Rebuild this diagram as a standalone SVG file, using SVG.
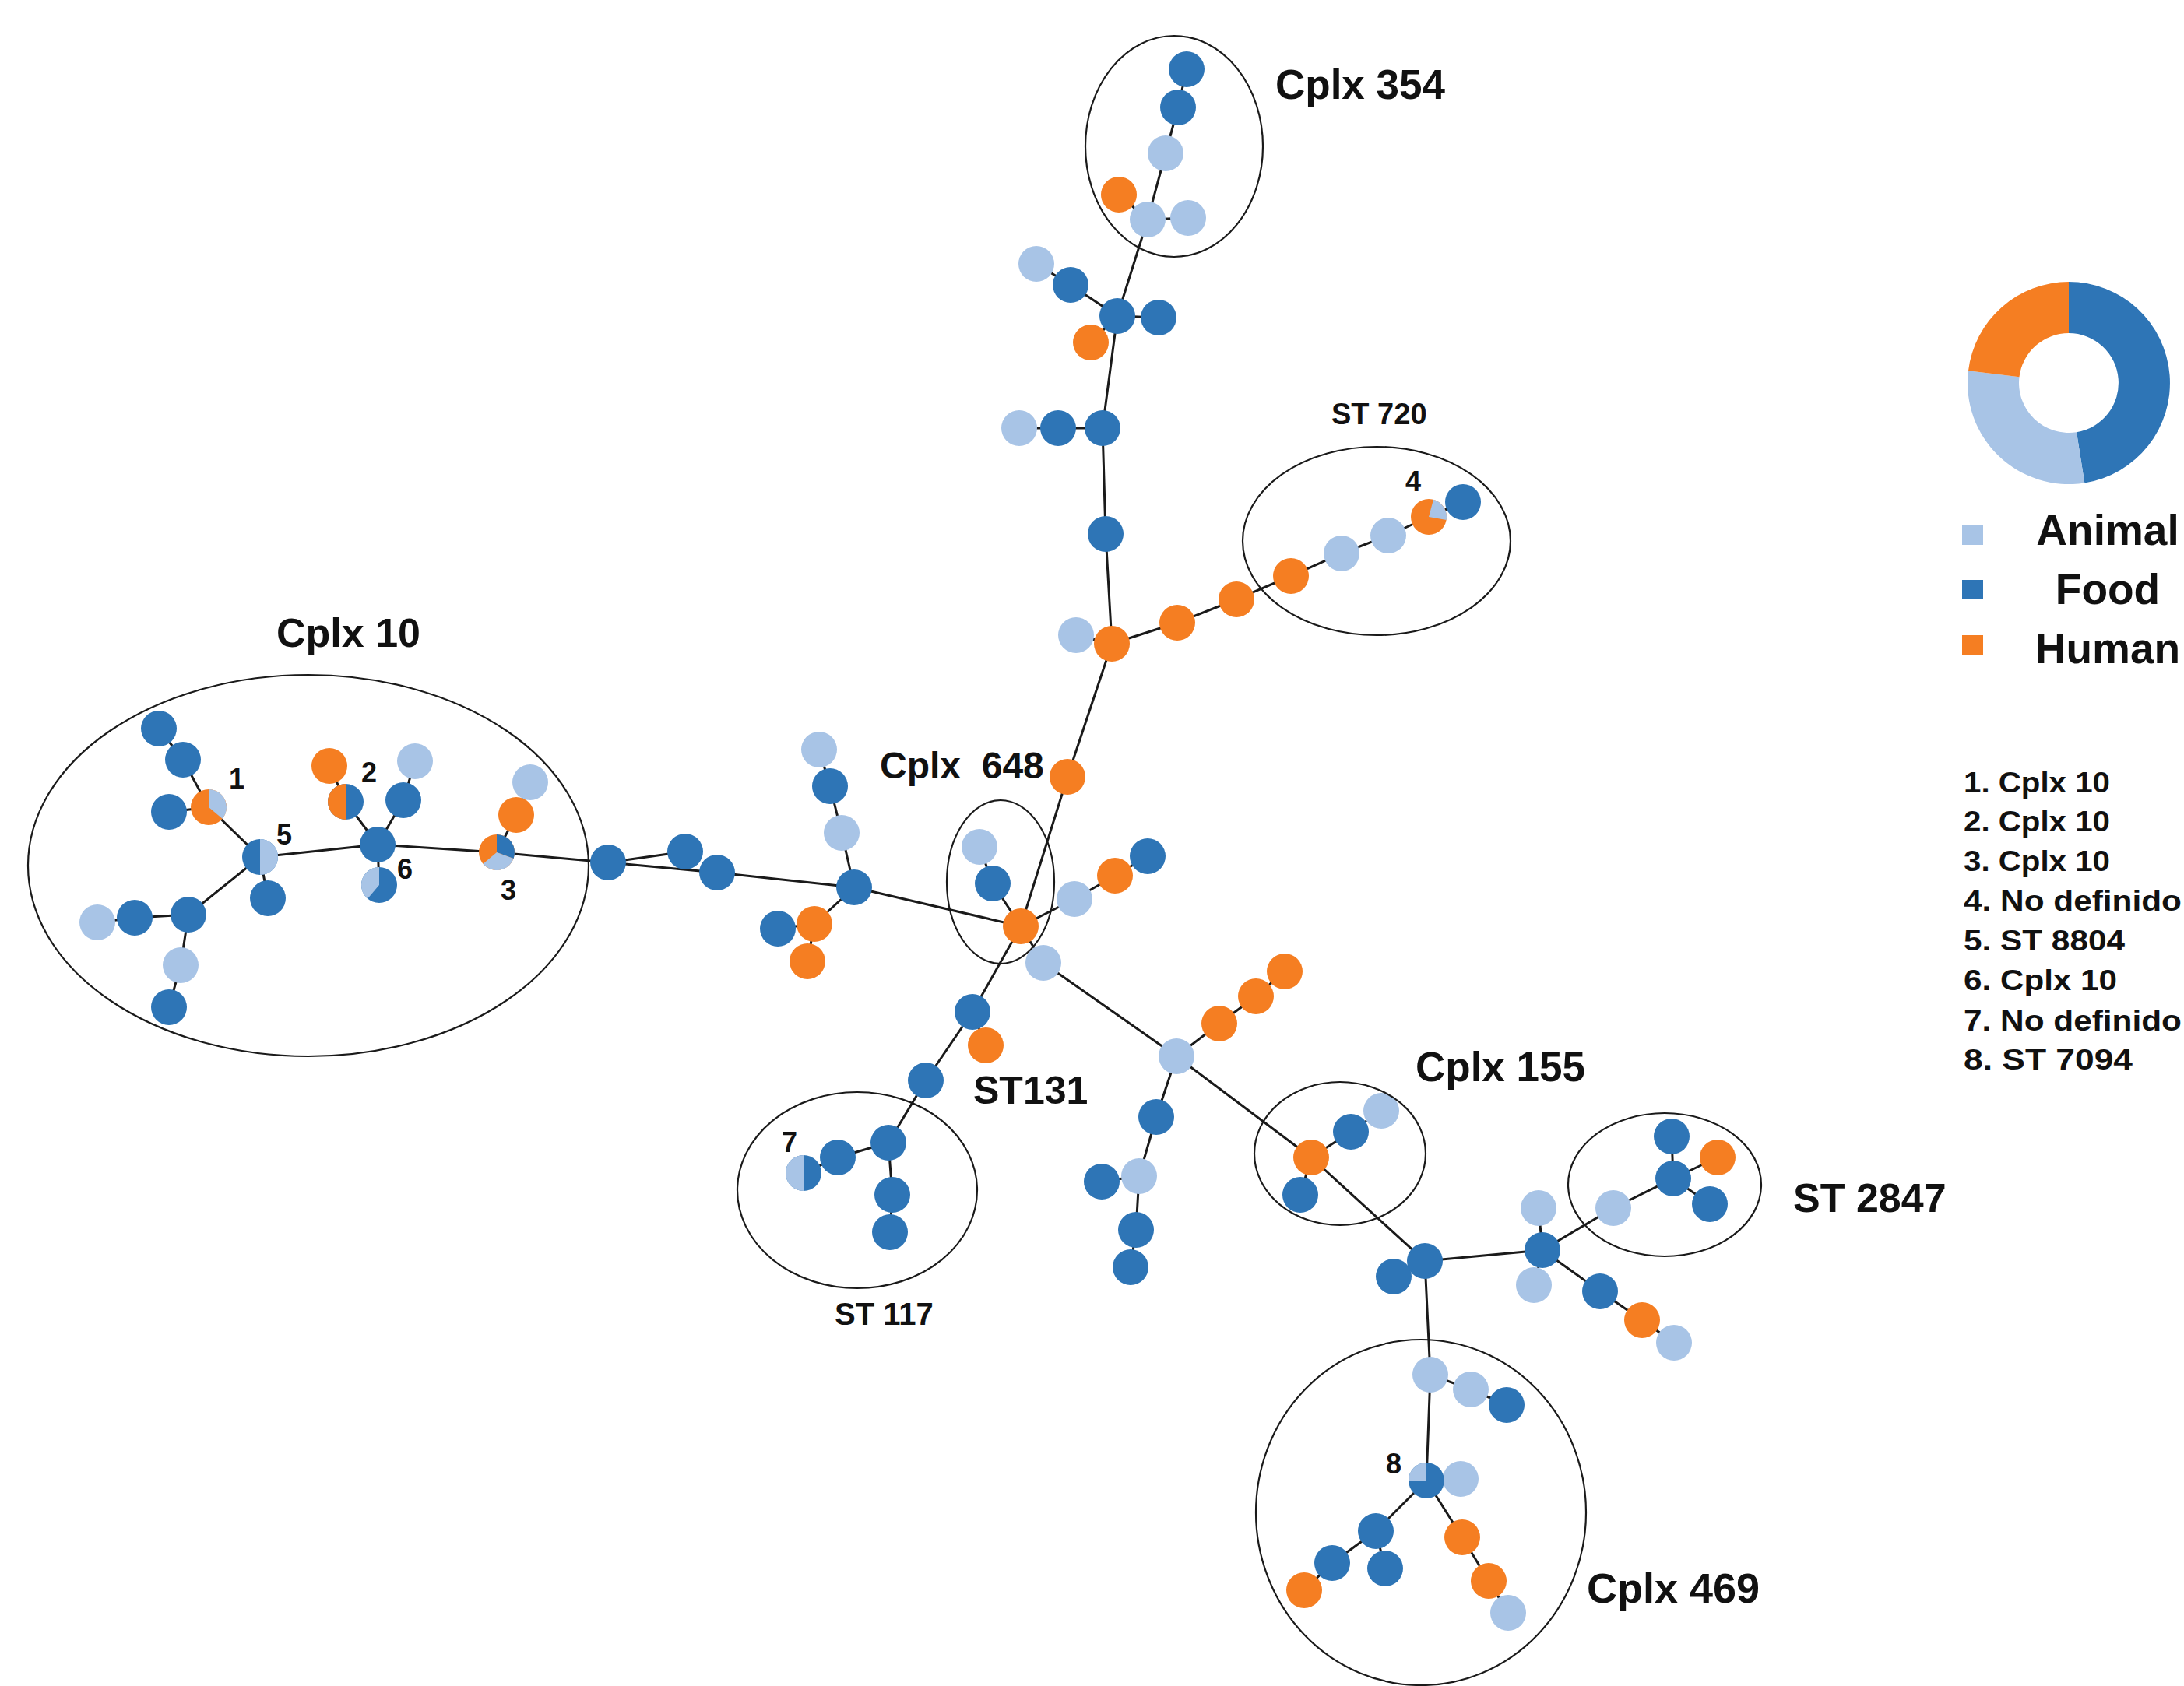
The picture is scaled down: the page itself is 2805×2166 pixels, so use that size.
<svg xmlns="http://www.w3.org/2000/svg" width="2805" height="2166" viewBox="0 0 2805 2166">
<style>
.f{fill:#2E75B6}.a{fill:#A8C4E6}.h{fill:#F57E22}
.e{fill:none;stroke:#1a1a1a;stroke-width:3;stroke-linecap:round;stroke-linejoin:round}
.g{fill:none;stroke:#1a1a1a;stroke-width:2.2}
.t{font-family:"Liberation Sans",Arial,sans-serif;font-weight:bold;fill:#111}
</style>
<rect width="2805" height="2166" fill="#ffffff"/>
<g id="connectors">
<path class="e" d="M204,936 L235,976 L268,1037 L334,1101 M217,1043 L268,1037 M334,1101 L344,1154 M334,1101 L242,1175 L173,1179 L125,1185 M242,1175 L232,1240 L217,1294 M334,1101 L485,1085 L444,1030 L423,984 M485,1085 L518,1028 L533,978 M485,1085 L487,1137 M485,1085 L638,1095 L781,1108 L880,1094 M781,1108 L921,1121 L1097,1140 L1311,1190 M1097,1140 L1081,1070 L1066,1010 L1052,963 M1097,1140 L1046,1187 L999,1193 M1046,1187 L1037,1235 M638,1095 L663,1047 L681,1005"/>
<path class="e" d="M1311,1190 L1275,1135 L1258,1088 M1311,1190 L1380,1155 L1432,1125 L1474,1100 M1311,1190 L1340,1237 L1511,1357 L1684,1487 L1830,1620 M1311,1190 L1249,1300 L1189,1388 L1141,1468 L1076,1487 L1032,1507 M1141,1468 L1146,1535 L1143,1583 M1249,1300 L1266,1343"/>
<path class="e" d="M1311,1190 L1371,998 L1428,827 L1420,686 L1416,550 L1435,406 L1474,282 L1497,197 L1513,138 L1524,89 M1474,282 L1437,250 M1474,282 L1526,280 M1435,406 L1375,366 L1331,339 M1435,406 L1488,408 M1435,406 L1401,440 M1416,550 L1359,550 L1309,550 M1428,827 L1382,816 M1428,827 L1512,800 L1588,770 L1658,740 L1723,711 L1783,688 L1835,664 L1879,645"/>
<path class="e" d="M1511,1357 L1566,1315 L1613,1280 L1650,1248 M1511,1357 L1485,1435 L1463,1511 L1459,1580 L1452,1628 M1463,1511 L1415,1518 M1684,1487 L1735,1454 L1774,1427 M1684,1487 L1670,1535 M1830,1620 L1790,1640 M1830,1620 L1981,1606 L1976,1552 M1981,1606 L1970,1651 M1981,1606 L2055,1659 L2109,1696 L2150,1725 M1981,1606 L2072,1552 L2149,1514 L2147,1460 M2149,1514 L2206,1487 M2149,1514 L2196,1547 M1830,1620 L1837,1766 L1832,1902 M1837,1766 L1889,1785 L1935,1805 M1832,1902 L1876,1900 M1832,1902 L1767,1967 L1711,2008 L1675,2043 M1767,1967 L1779,2015 M1832,1902 L1878,1975 L1912,2031 L1937,2072"/>
</g>
<g id="nodes">
<g id="n1"><circle class="f" cx="204" cy="936" r="23"/></g>
<g id="n2"><circle class="f" cx="235" cy="976" r="23"/></g>
<g id="n4"><circle class="f" cx="217" cy="1043" r="23"/></g>
<g id="n3"><circle class="h" cx="268" cy="1037" r="23"/><path class="a" d="M268,1037 L268,1014 A23,23 0 0 1 285.6,1051.8 Z"/></g>
<g id="n6"><circle class="f" cx="344" cy="1154" r="23"/></g>
<g id="n5"><circle class="f" cx="334" cy="1101" r="23"/><path class="a" d="M334,1078 A23,23 0 0 1 334,1124 Z"/></g>
<g id="n9"><circle class="a" cx="125" cy="1185" r="23"/></g>
<g id="n8"><circle class="f" cx="173" cy="1179" r="23"/></g>
<g id="n7"><circle class="f" cx="242" cy="1175" r="23"/></g>
<g id="n10"><circle class="a" cx="232" cy="1240" r="23"/></g>
<g id="n11"><circle class="f" cx="217" cy="1294" r="23"/></g>
<g id="n12"><circle class="h" cx="423" cy="984" r="23"/></g>
<g id="n13"><circle class="f" cx="444" cy="1030" r="23"/><path class="h" d="M444,1007 A23,23 0 0 0 444,1053 Z"/></g>
<g id="n14"><circle class="a" cx="533" cy="978" r="23"/></g>
<g id="n15"><circle class="f" cx="518" cy="1028" r="23"/></g>
<g id="n16"><circle class="f" cx="485" cy="1085" r="23"/></g>
<g id="n17"><circle class="f" cx="487" cy="1137" r="23"/><path class="a" d="M487,1137 L472.2,1154.6 A23,23 0 0 1 487,1114 Z"/></g>
<g id="n18"><circle class="a" cx="681" cy="1005" r="23"/></g>
<g id="n19"><circle class="h" cx="663" cy="1047" r="23"/></g>
<g id="n20"><circle class="h" cx="638" cy="1095" r="23"/><path class="f" d="M638,1095 L638,1072 A23,23 0 0 1 659.6,1102.9 Z"/><path class="a" d="M638,1095 L659.6,1102.9 A23,23 0 0 1 620.4,1109.8 Z"/></g>
<g id="n21"><circle class="f" cx="781" cy="1108" r="23"/></g>
<g id="n22"><circle class="f" cx="880" cy="1094" r="23"/></g>
<g id="n23"><circle class="f" cx="921" cy="1121" r="23"/></g>
<g id="n24"><circle class="f" cx="1097" cy="1140" r="23"/></g>
<g id="n25"><circle class="a" cx="1081" cy="1070" r="23"/></g>
<g id="n26"><circle class="f" cx="1066" cy="1010" r="23"/></g>
<g id="n27"><circle class="a" cx="1052" cy="963" r="23"/></g>
<g id="n29"><circle class="f" cx="999" cy="1193" r="23"/></g>
<g id="n28"><circle class="h" cx="1046" cy="1187" r="23"/></g>
<g id="n30"><circle class="h" cx="1037" cy="1235" r="23"/></g>
<g id="n33"><circle class="a" cx="1258" cy="1088" r="23"/></g>
<g id="n32"><circle class="f" cx="1275" cy="1135" r="23"/></g>
<g id="n34"><circle class="a" cx="1380" cy="1155" r="23"/></g>
<g id="n35"><circle class="h" cx="1432" cy="1125" r="23"/></g>
<g id="n36"><circle class="f" cx="1474" cy="1100" r="23"/></g>
<g id="n37"><circle class="a" cx="1340" cy="1237" r="23"/></g>
<g id="n31"><circle class="h" cx="1311" cy="1190" r="23"/></g>
<g id="n38"><circle class="f" cx="1249" cy="1300" r="23"/></g>
<g id="n39"><circle class="h" cx="1266" cy="1343" r="23"/></g>
<g id="n40"><circle class="f" cx="1189" cy="1388" r="23"/></g>
<g id="n41"><circle class="f" cx="1141" cy="1468" r="23"/></g>
<g id="n42"><circle class="f" cx="1076" cy="1487" r="23"/></g>
<g id="n43"><circle class="f" cx="1032" cy="1507" r="23"/><path class="a" d="M1032,1484 A23,23 0 0 0 1032,1530 Z"/></g>
<g id="n44"><circle class="f" cx="1146" cy="1535" r="23"/></g>
<g id="n45"><circle class="f" cx="1143" cy="1583" r="23"/></g>
<g id="n46"><circle class="h" cx="1371" cy="998" r="23"/></g>
<g id="n48"><circle class="a" cx="1382" cy="816" r="23"/></g>
<g id="n47"><circle class="h" cx="1428" cy="827" r="23"/></g>
<g id="n49"><circle class="h" cx="1512" cy="800" r="23"/></g>
<g id="n50"><circle class="h" cx="1588" cy="770" r="23"/></g>
<g id="n51"><circle class="h" cx="1658" cy="740" r="23"/></g>
<g id="n52"><circle class="a" cx="1723" cy="711" r="23"/></g>
<g id="n53"><circle class="a" cx="1783" cy="688" r="23"/></g>
<g id="n55"><circle class="f" cx="1879" cy="645" r="23"/></g>
<g id="n54"><circle class="h" cx="1835" cy="664" r="23"/><path class="a" d="M1835,664 L1841,641.8 A23,23 0 0 1 1857.7,668 Z"/></g>
<g id="n56"><circle class="f" cx="1420" cy="686" r="23"/></g>
<g id="n59"><circle class="a" cx="1309" cy="550" r="23"/></g>
<g id="n58"><circle class="f" cx="1359" cy="550" r="23"/></g>
<g id="n57"><circle class="f" cx="1416" cy="550" r="23"/></g>
<g id="n64"><circle class="a" cx="1331" cy="339" r="23"/></g>
<g id="n63"><circle class="f" cx="1375" cy="366" r="23"/></g>
<g id="n62"><circle class="h" cx="1401" cy="440" r="23"/></g>
<g id="n60"><circle class="f" cx="1435" cy="406" r="23"/></g>
<g id="n61"><circle class="f" cx="1488" cy="408" r="23"/></g>
<g id="n66"><circle class="h" cx="1437" cy="250" r="23"/></g>
<g id="n65"><circle class="a" cx="1474" cy="282" r="23"/></g>
<g id="n67"><circle class="a" cx="1526" cy="280" r="23"/></g>
<g id="n68"><circle class="a" cx="1497" cy="197" r="23"/></g>
<g id="n69"><circle class="f" cx="1513" cy="138" r="23"/></g>
<g id="n70"><circle class="f" cx="1524" cy="89" r="23"/></g>
<g id="n71"><circle class="a" cx="1511" cy="1357" r="23"/></g>
<g id="n72"><circle class="h" cx="1566" cy="1315" r="23"/></g>
<g id="n73"><circle class="h" cx="1613" cy="1280" r="23"/></g>
<g id="n74"><circle class="h" cx="1650" cy="1248" r="23"/></g>
<g id="n75"><circle class="f" cx="1485" cy="1435" r="23"/></g>
<g id="n77"><circle class="f" cx="1415" cy="1518" r="23"/></g>
<g id="n76"><circle class="a" cx="1463" cy="1511" r="23"/></g>
<g id="n78"><circle class="f" cx="1459" cy="1580" r="23"/></g>
<g id="n79"><circle class="f" cx="1452" cy="1628" r="23"/></g>
<g id="n82"><circle class="a" cx="1774" cy="1427" r="23"/></g>
<g id="n81"><circle class="f" cx="1735" cy="1454" r="23"/></g>
<g id="n83"><circle class="f" cx="1670" cy="1535" r="23"/></g>
<g id="n80"><circle class="h" cx="1684" cy="1487" r="23"/></g>
<g id="n84"><circle class="f" cx="1790" cy="1640" r="23"/></g>
<g id="n85"><circle class="f" cx="1830" cy="1620" r="23"/></g>
<g id="n87"><circle class="a" cx="1976" cy="1552" r="23"/></g>
<g id="n88"><circle class="a" cx="1970" cy="1651" r="23"/></g>
<g id="n86"><circle class="f" cx="1981" cy="1606" r="23"/></g>
<g id="n89"><circle class="f" cx="2055" cy="1659" r="23"/></g>
<g id="n90"><circle class="h" cx="2109" cy="1696" r="23"/></g>
<g id="n91"><circle class="a" cx="2150" cy="1725" r="23"/></g>
<g id="n92"><circle class="a" cx="2072" cy="1552" r="23"/></g>
<g id="n94"><circle class="f" cx="2147" cy="1460" r="23"/></g>
<g id="n95"><circle class="h" cx="2206" cy="1487" r="23"/></g>
<g id="n96"><circle class="f" cx="2196" cy="1547" r="23"/></g>
<g id="n93"><circle class="f" cx="2149" cy="1514" r="23"/></g>
<g id="n97"><circle class="a" cx="1837" cy="1766" r="23"/></g>
<g id="n98"><circle class="a" cx="1889" cy="1785" r="23"/></g>
<g id="n99"><circle class="f" cx="1935" cy="1805" r="23"/></g>
<g id="n101"><circle class="a" cx="1876" cy="1900" r="23"/></g>
<g id="n100"><circle class="f" cx="1832" cy="1902" r="23"/><path class="a" d="M1832,1902 L1809,1902 A23,23 0 0 1 1832,1879 Z"/></g>
<g id="n104"><circle class="h" cx="1675" cy="2043" r="23"/></g>
<g id="n103"><circle class="f" cx="1711" cy="2008" r="23"/></g>
<g id="n105"><circle class="f" cx="1779" cy="2015" r="23"/></g>
<g id="n102"><circle class="f" cx="1767" cy="1967" r="23"/></g>
<g id="n106"><circle class="h" cx="1878" cy="1975" r="23"/></g>
<g id="n107"><circle class="h" cx="1912" cy="2031" r="23"/></g>
<g id="n108"><circle class="a" cx="1937" cy="2072" r="23"/></g>
</g>
<g id="groups">
<g id="g-cplx10"><ellipse class="g" cx="396" cy="1112" rx="360" ry="245"/><text class="t" x="355" y="831" font-size="52">Cplx 10</text></g>
<g id="g-cplx354"><ellipse class="g" cx="1508" cy="188" rx="114" ry="142"/><text class="t" x="1638" y="127" font-size="53">Cplx 354</text></g>
<g id="g-st720"><ellipse class="g" cx="1768" cy="695" rx="172" ry="121"/><text class="t" x="1710" y="545" font-size="38">ST 720</text></g>
<g id="g-cplx648"><ellipse class="g" cx="1285" cy="1133" rx="69" ry="105"/><text class="t" x="1130" y="1000" font-size="48" xml:space="preserve">Cplx  648</text></g>
<g id="g-st131"><text class="t" x="1250" y="1418" font-size="50">ST131</text></g>
<g id="g-st117"><ellipse class="g" cx="1101" cy="1529" rx="154" ry="126"/><text class="t" x="1072" y="1702" font-size="40">ST 117</text></g>
<g id="g-cplx155"><ellipse class="g" cx="1721" cy="1482" rx="110" ry="92"/><text class="t" x="1818" y="1389" font-size="53">Cplx 155</text></g>
<g id="g-st2847"><ellipse class="g" cx="2138" cy="1522" rx="124" ry="92"/><text class="t" x="2303" y="1557" font-size="52">ST 2847</text></g>
<g id="g-cplx469"><ellipse class="g" cx="1825" cy="1943" rx="212" ry="222"/><text class="t" x="2038" y="2059" font-size="54">Cplx 469</text></g>
</g>
<g id="node-numbers" class="t" font-size="36" text-anchor="middle">
<text x="304" y="1013">1</text>
<text x="474" y="1005">2</text>
<text x="653" y="1156">3</text>
<text x="1815" y="631">4</text>
<text x="365" y="1085">5</text>
<text x="520" y="1129">6</text>
<text x="1014" y="1480">7</text>
<text x="1790" y="1893">8</text>
</g>
<g id="legend">
<path class="f" d="M2657,362 A130,130 0 0 1 2677.3,620.4 L2667,555.2 A64,64 0 0 0 2657,428 Z"/>
<path class="a" d="M2677.3,620.4 A130,130 0 0 1 2528,476.2 L2593.5,484.2 A64,64 0 0 0 2667,555.2 Z"/>
<path class="h" d="M2528,476.2 A130,130 0 0 1 2657,362 L2657,428 A64,64 0 0 0 2593.5,484.2 Z"/>
<rect class="a" x="2520" y="675" width="27" height="25"/>
<rect class="f" x="2520" y="745" width="27" height="25"/>
<rect class="h" x="2520" y="816" width="27" height="25"/>
<g class="t" font-size="55" text-anchor="middle">
<text x="2707" y="700">Animal</text>
<text x="2707" y="776">Food</text>
<text x="2707" y="852">Human</text>
</g>
<g class="t" font-size="37" xml:space="preserve" lengthAdjust="spacingAndGlyphs">
<text x="2522" y="1018" textLength="188" lengthAdjust="spacingAndGlyphs">1. Cplx 10</text>
<text x="2522" y="1068" textLength="188" lengthAdjust="spacingAndGlyphs">2. Cplx 10</text>
<text x="2522" y="1119" textLength="188" lengthAdjust="spacingAndGlyphs">3. Cplx 10</text>
<text x="2522" y="1170" textLength="280" lengthAdjust="spacingAndGlyphs">4. No definido</text>
<text x="2522" y="1221" textLength="207" lengthAdjust="spacingAndGlyphs">5.  ST 8804</text>
<text x="2522" y="1272" textLength="197" lengthAdjust="spacingAndGlyphs">6.  Cplx 10</text>
<text x="2522" y="1324" textLength="280" lengthAdjust="spacingAndGlyphs">7. No definido</text>
<text x="2522" y="1374" textLength="217" lengthAdjust="spacingAndGlyphs">8.  ST  7094</text>
</g>
</g>
</svg>
